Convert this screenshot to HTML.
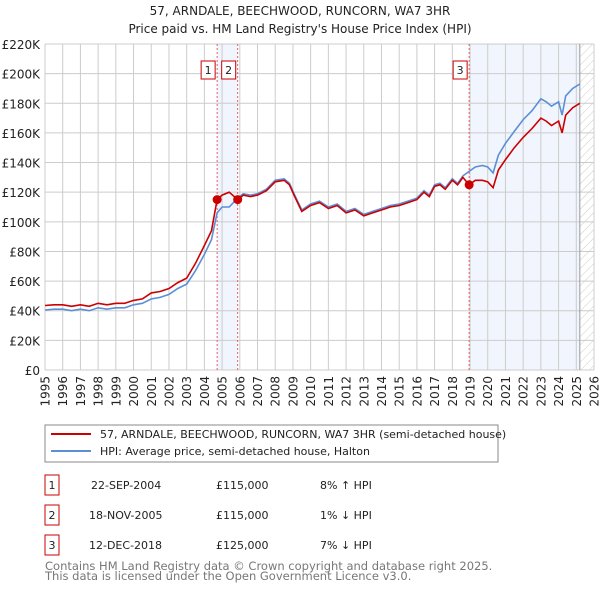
<!DOCTYPE html>
<html><head><meta charset="utf-8"><style>
body{margin:0;background:#fff;font-family:"DejaVu Sans","Liberation Sans",sans-serif;}
#wrap{position:relative;width:600px;height:590px;overflow:hidden;}
</style></head><body>
<div id="wrap">
<svg id="chart" width="600" height="590" xmlns="http://www.w3.org/2000/svg" font-family="DejaVu Sans, Liberation Sans, sans-serif">
<defs>
<pattern id="hatch" width="6" height="6" patternUnits="userSpaceOnUse" patternTransform="rotate(45)">
<line x1="0" y1="0" x2="0" y2="6" stroke="#ccc" stroke-width="1"/></pattern>
</defs>
<text x="300" y="15" text-anchor="middle" font-size="12" fill="#222">57, ARNDALE, BEECHWOOD, RUNCORN, WA7 3HR</text>
<text x="300" y="33" text-anchor="middle" font-size="12" fill="#222">Price paid vs. HM Land Registry's House Price Index (HPI)</text>
<g id="plot"></g>
<rect x="45" y="425" width="453" height="37" fill="#fff" stroke="#888"/>
<line x1="51" y1="434" x2="91" y2="434" stroke="#cc0000" stroke-width="2"/>
<text x="100" y="438" font-size="11" fill="#222">57, ARNDALE, BEECHWOOD, RUNCORN, WA7 3HR (semi-detached house)</text>
<line x1="51" y1="451" x2="91" y2="451" stroke="#5b8fd6" stroke-width="2"/>
<text x="100" y="455" font-size="11" fill="#222">HPI: Average price, semi-detached house, Halton</text>
<g font-size="11" fill="#222">
<rect x="45" y="475" width="14" height="20" fill="#fff" stroke="#cc0000"/><text x="52" y="489" text-anchor="middle">1</text>
<text x="91" y="489">22-SEP-2004</text><text x="216" y="489">£115,000</text><text x="320" y="489">8% ↑ HPI</text>
<rect x="45" y="505" width="14" height="20" fill="#fff" stroke="#cc0000"/><text x="52" y="519" text-anchor="middle">2</text>
<text x="89" y="519">18-NOV-2005</text><text x="216" y="519">£115,000</text><text x="320" y="519">1% ↓ HPI</text>
<rect x="45" y="535" width="14" height="20" fill="#fff" stroke="#cc0000"/><text x="52" y="549" text-anchor="middle">3</text>
<text x="89" y="549">12-DEC-2018</text><text x="216" y="549">£125,000</text><text x="320" y="549">7% ↓ HPI</text>
</g>
<text x="45" y="570" font-size="11.5" fill="#777">Contains HM Land Registry data © Crown copyright and database right 2025.</text>
<text x="45" y="580" font-size="11.5" fill="#777">This data is licensed under the Open Government Licence v3.0.</text>
</svg>
</div>
<script>
const yearsT = [1995,1995.5,1996,1996.5,1997,1997.5,1998,1998.5,1999,1999.5,
2000,2000.5,2001,2001.5,2002,2002.5,2003,2003.5,2004,2004.4,
2004.72,2005,2005.4,2005.88,2006.2,2006.6,2007,2007.5,2008,2008.5,
2008.8,2009.1,2009.5,2010,2010.5,2011,2011.5,2012,2012.5,2013,
2013.5,2014,2014.5,2015,2015.5,2016,2016.4,2016.7,2017,2017.3,
2017.6,2018,2018.3,2018.6,2018.95,2019.3,2019.7,2020,2020.3,2020.6,
2021,2021.5,2022,2022.5,2023,2023.3,2023.6,2024,2024.2,2024.4,
2024.8,2025.2];
const hpiValues = [40.5,41,41,40,41,40,42,41,42,42,
44,45,48,49,51,55,58,67,78,88,
106,110,110,116,119,118,119,122,128,129,
126,118,108,112,114,110,112,107,109,105,
107,109,111,112,114,116,121,118,125,126,
123,129,126,131,134,137,138,137,133,145,
153,161,169,175,183,181,178,181,172,185,
190,193];
const propertyValues = [43.5,44,44,43,44,43,45,44,45,45,
47,48,52,53,55,59,62,72,84,94,
115,118,120,115,118,117,118,121,127,128,
125,117,107,111,113,109,111,106,108,104,
106,108,110,111,113,115,120,117,124,125,
122,128,125,130,125,128,128,127,123,135,
142,150,157,163,170,168,165,168,160,172,
177,180];
const saleYears = [2004.72,2005.88,2018.95];
const salePrices = [115,115,125];
const saleLabels = ["1","2","3"];
const yTicks = [0,20,40,60,80,100,120,140,160,180,200,220];
const yTickLabels = ["£0","£20K","£40K","£60K","£80K","£100K","£120K","£140K","£160K","£180K","£200K","£220K"];
const xTicks = [1995,1996,1997,1998,1999,2000,2001,2002,2003,2004,2005,2006,2007,2008,2009,2010,2011,2012,2013,2014,2015,2016,2017,2018,2019,2020,2021,2022,2023,2024,2025,2026];
const dataEnd = 2025.2;

const X0=45,X1=594,Y0=370,Y1=44;
const xS = t => X0 + (t-1995)/(2026-1995)*(X1-X0);
const yS = v => Y0 - v/220*(Y0-Y1);
const NS="http://www.w3.org/2000/svg";
const g=document.getElementById('plot');
function mk(tag,attrs){const e=document.createElementNS(NS,tag);for(const k in attrs)e.setAttribute(k,attrs[k]);g.appendChild(e);return e;}

let e;
e=mk('rect',{x:xS(saleYears[0]),y:Y1,width:xS(saleYears[1])-xS(saleYears[0]),height:Y0-Y1,fill:'#eef3fc',opacity:0.8});


e=mk('rect',{x:xS(saleYears[2]),y:Y1,width:xS(dataEnd)-xS(saleYears[2]),height:Y0-Y1,fill:'#eef3fc',opacity:0.8});


e=mk('rect',{x:xS(dataEnd),y:Y1,width:X1-xS(dataEnd),height:Y0-Y1,fill:'url(#hatch)'});



yTicks.forEach((v,i)=>{
  e=mk('line',{x1:X0,x2:X1,y1:yS(v),y2:yS(v),stroke:'#ccc','stroke-width':1});
  
  
  e=mk('text',{x:40,y:yS(v)+5,'text-anchor':'end','font-size':12,fill:'#222'});
  e.textContent=yTickLabels[i];
  
  
});
xTicks.forEach(t=>{
  e=mk('line',{x1:xS(t),x2:xS(t),y1:Y1,y2:Y0,stroke:'#ccc','stroke-width':1});
  
  
  e=mk('text',{x:0,y:0,'text-anchor':'end','font-size':12,fill:'#222',transform:`translate(${xS(t)+4.5},${Y0+6}) rotate(-90)`});
  e.textContent=t;
  
  
});
e=mk('line',{x1:xS(dataEnd),x2:xS(dataEnd),y1:Y1,y2:Y0,stroke:'#999','stroke-width':1});



saleYears.forEach((t,i)=>{
  e=mk('line',{x1:xS(t),x2:xS(t),y1:Y1,y2:Y0,stroke:'#e06060','stroke-width':1,'stroke-dasharray':'2,2'});
  
  
});

function path(vals){return vals.map((v,i)=>(i?'L':'M')+xS(yearsT[i]).toFixed(1)+','+yS(v).toFixed(1)).join('');}
e=mk('path',{d:path(hpiValues),fill:'none',stroke:'#5b8fd6','stroke-width':1.6});


e=mk('path',{d:path(propertyValues),fill:'none',stroke:'#cc0000','stroke-width':1.6});



saleYears.forEach((t,i)=>{
  e=mk('circle',{cx:xS(t),cy:yS(salePrices[i]),r:4.5,fill:'#cc0000'});
  
  
  e=mk('rect',{x:xS(t)-9-7,y:61,width:14,height:18,fill:'#fff',stroke:'#cc0000'});
  
  
  e=mk('text',{x:xS(t)-9,y:74,'text-anchor':'middle','font-size':11,fill:'#222'});
  e.textContent=saleLabels[i];
  
  
});
</script>
</body></html>
